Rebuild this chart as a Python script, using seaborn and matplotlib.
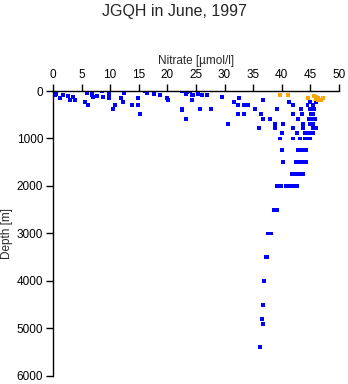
import matplotlib
matplotlib.use("Agg")
import matplotlib.pyplot as plt
import seaborn as sns
import pandas as pd

# Blue (good) samples: nitrate [umol/l] and depth [m]
blue_nitrate = [0.3, 0.5, 0.2, 0.6, 0.3, 1.2, 1.8, 2.6, 3.0, 3.5, 3.8, 5.6, 6.1, 5.9, 6.8, 6.8, 7.0, 7.7,
                8.6, 8.7, 9.8, 9.8, 10.5, 10.8, 11.9, 12.2, 12.4, 13.8, 14.9, 14.9, 15.2, 16.1, 16.4,
                17.7, 18.7, 19.9, 20.1, 22.6, 22.6, 23.0, 23.5, 24.0, 23.2, 24.3, 23.3, 24.3, 24.5, 25.3,
                25.7, 26.0, 26.9, 27.6, 29.5, 30.6, 31.6, 32.3, 32.3, 32.5, 22.5,
                33.4, 34.1, 35.3, 33.4, 36.4, 36.7, 36.7, 37.9, 36.0, 38.8, 38.8, 39.2, 40.0, 40.2, 41.3,
                42.0, 42.0, 42.0, 42.7, 42.8, 43.4, 43.5, 43.7, 43.7, 44.0, 44.9, 44.9, 45.1, 45.3, 45.4,
                44.8, 45.5, 45.6, 45.5, 46.0, 45.5, 46.0, 45.0, 45.4, 44.5, 44.7, 45.8, 45.0,
                39.7, 42.0, 43.2, 44.0, 44.6, 45.0,
                40.0, 42.8, 43.5, 44.2,
                40.2, 42.5, 43.0, 43.6, 44.3,
                41.8, 42.5, 43.2, 43.7,
                39.2, 39.8, 40.8, 41.5, 42.0, 42.6,
                38.6, 39.2,
                37.6, 37.9, 38.2,
                37.2, 37.5,
                36.9, 36.7, 36.6, 36.7, 36.2]
blue_depth = [0, 20, 40, 60, 80, 140, 85, 105, 190, 125, 190, 230, 300, 40, 0, 85, 125, 105,
              0, 125, 60, 150, 380, 300, 150, 230, 40, 300, 150, 300, 480, 0, 40,
              60, 85, 150, 190, 400, 10, 0, 20, 0, 60, 85, 590, 190, 85, 60,
              380, 85, 85, 380, 125, 700, 230, 300, 480, 150, 380,
              300, 300, 380, 480, 480, 190, 590, 590, 780, 700, 780, 380, 880, 700, 230,
              480, 300, 780, 880, 590, 380, 480, 700, 780, 880, 380, 230, 480, 590, 700,
              880, 780, 380, 300, 230, 480, 780, 880, 880, 300, 590, 590, 700,
              1000, 1000, 1000, 1000, 1000, 1000,
              1250, 1250, 1250, 1250,
              1500, 1500, 1500, 1500, 1500,
              1750, 1750, 1750, 1750,
              2000, 2000, 2000, 2000, 2000, 2000,
              2500, 2500,
              3000, 3000, 3000,
              3500, 3500,
              4000, 4500, 4800, 4900, 5400]

# Orange (flagged) samples
orange_nitrate = [39.7, 41.1, 44.6, 45.6, 46.0, 46.3, 46.8, 47.2, 45.9, 46.4]
orange_depth = [85, 85, 150, 100, 125, 190, 190, 150, 170, 140]

x_ticks = [0, 5, 10, 15, 20, 25, 30, 35, 40, 45, 50]
y_ticks = [0, 1000, 2000, 3000, 4000, 5000, 6000]

df = pd.DataFrame({
    "nitrate": blue_nitrate + orange_nitrate,
    "depth": blue_depth + orange_depth,
    "flag": ["good"] * len(blue_nitrate) + ["flagged"] * len(orange_nitrate),
})

sns.set_style("white")
plt.rcParams["font.family"] = ["Liberation Sans", "DejaVu Sans"]

fig = plt.figure(figsize=(3.48, 3.84), dpi=100)
ax = fig.add_axes([0.152, 0.021, 0.822, 0.742])

sns.scatterplot(data=df, x="nitrate", y="depth", hue="flag",
                palette={"good": "#0000FF", "flagged": "#FFA500"},
                marker="s", s=8, linewidth=0, legend=False, ax=ax)

ax.set_xlim(0, 50)
ax.set_ylim(6000, 0)
ax.set_xticks(x_ticks)
ax.set_yticks(y_ticks)
ax.xaxis.tick_top()
ax.xaxis.set_label_position("top")
ax.set_xlabel("Nitrate [\u00b5mol/l]", fontsize=8.5, labelpad=4)
ax.set_ylabel("Depth [m]", fontsize=8.5, labelpad=3)
ax.tick_params(axis="both", direction="out", length=5, width=1, labelsize=8.5, pad=2,
               top=True, bottom=False, left=True, right=False, colors="black")
for side in ["right", "bottom"]:
    ax.spines[side].set_visible(False)
for side in ["left", "top"]:
    ax.spines[side].set_color("black")
    ax.spines[side].set_linewidth(1)

fig.suptitle("JGQH in June, 1997", x=0.5, y=0.99, fontsize=11.5)

fig.savefig("out.png", dpi=100)
